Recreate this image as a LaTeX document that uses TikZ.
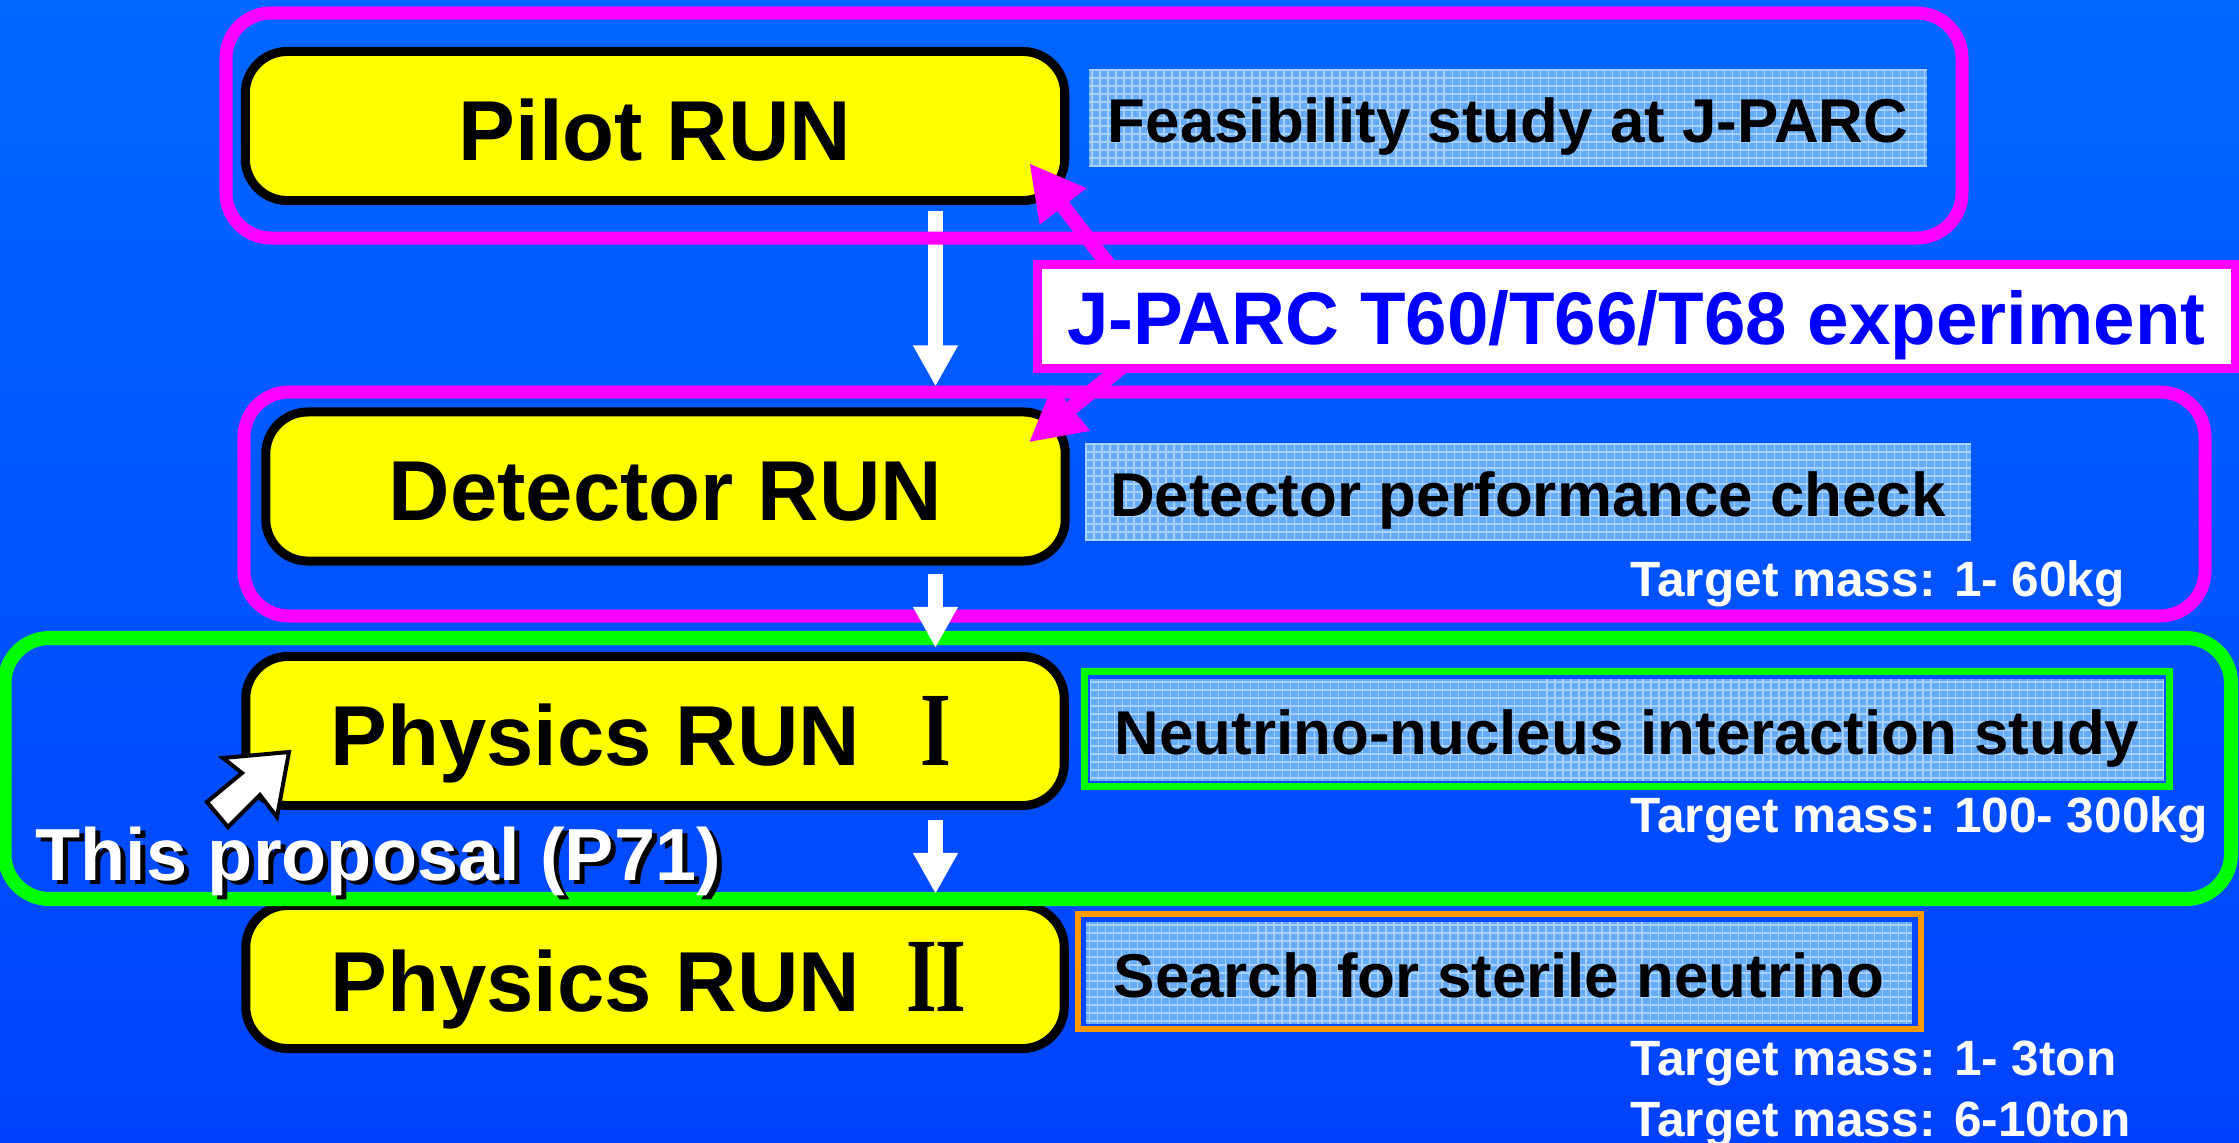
\documentclass[tikz,border=0pt]{standalone}
\usepackage{fontspec}
\setmainfont{Liberation Sans}
\newfontfamily\numfont{Liberation Serif}
\usetikzlibrary{arrows.meta,calc}
\pgfdeclarelayer{front}
\pgfsetlayers{main,front}
\definecolor{bgtop}{RGB}{0,102,255}
\definecolor{bgmid}{RGB}{0,153,255}
\definecolor{bgbot}{RGB}{0,66,255}
\definecolor{mag}{RGB}{255,0,255}
\definecolor{grn}{RGB}{0,255,0}
\definecolor{org}{RGB}{255,153,0}
\definecolor{yel}{RGB}{255,255,0}
\definecolor{patblue}{RGB}{100,172,250}
\definecolor{jblue}{RGB}{0,0,255}
\newcommand{\romnum}[1]{\makebox[0.86cm]{\scalebox{0.75}[1]{\numfont\bfseries\fontsize{30}{30}\selectfont #1}}}
\begin{document}
\begin{tikzpicture}[x=0.01cm,y=-0.01cm,
  runbox/.style={draw=black, line width=0.9mm, fill=yel, rounded corners=4.2mm, inner sep=0pt,
    text height=0.68cm, text depth=0pt, font=\bfseries\fontsize{24.2}{28}\selectfont},
  descbox/.style={fill=patblue, inner sep=0pt, text height=0.48cm, text depth=0pt,
    font=\bfseries\fontsize{17.6}{20}\selectfont,
    path picture={\draw[white, opacity=0.45, line width=0.35pt, step=0.8mm]
      (path picture bounding box.south west) grid (path picture bounding box.north east);}},
  mframe/.style={draw=mag, line width=1.3mm, rounded corners=4.5mm},
  gframe/.style={draw=grn, line width=1.4mm, rounded corners=4.5mm},
  warrow/.style={draw=white, line width=1.5mm, -{Triangle[length=4.1mm,width=4.2mm]}},
  marrow/.style={draw=mag, line width=1.5mm, -{Triangle[length=5.5mm,width=5.5mm]}},
  tmass/.style={text=white, font=\bfseries\fontsize{14.1}{16}\selectfont, anchor=base west, inner sep=0pt},
  pointer/.style={fill=white, draw=black, line width=0.4mm, line join=miter}
]
\useasboundingbox (0,0) rectangle (2239,1142);
\fill[top color=bgtop, middle color=bgmid, bottom color=bgbot] (0,0) rectangle (2239,1142);

% run boxes
\node[runbox, minimum width=8.19cm, minimum height=1.49cm] (pilot) at (655,126) {Pilot RUN};
\node[runbox, minimum width=7.99cm, minimum height=1.49cm] (detector) at (665.5,486.5) {Detector RUN};
\node[runbox, minimum width=8.18cm, minimum height=1.49cm] (phys1) at (655,731)
  {Physics RUN\hspace{0.33cm}\romnum{I}};
\node[runbox, minimum width=8.18cm, minimum height=1.43cm] (phys2) at (655,977)
  {Physics RUN\hspace{0.33cm}\romnum{I\kern-0.03em I}};

% frames
\draw[mframe] (244,392) rectangle (2205,616);
\draw[gframe] (4.5,638) rectangle (2231,899);

% white flow arrows
\coordinate (ax) at (935.5,0);
\draw[warrow, shorten <=0.06cm, shorten >=0.21cm] (pilot.south -| ax) -- (detector.north -| ax);
\draw[mframe] (226,13) rectangle (1962,238);
\draw[warrow, shorten <=0.08cm, shorten >=0.04cm] (detector.south -| ax) -- (phys1.north -| ax);
\draw[warrow, shorten <=0.10cm, shorten >=0.07cm] (phys1.south -| ax) -- (phys2.north -| ax);

% description boxes
\node[descbox, minimum width=8.38cm, minimum height=0.98cm] (feas) at (1508,118) {Feasibility study at J-PARC};
\node[descbox, minimum width=8.86cm, minimum height=0.98cm] (perf) at (1528,492) {Detector performance check};
\node[descbox, minimum width=10.74cm, minimum height=1.02cm] (nuc) at (1627,730) {Neutrino-nucleus interaction study};
\draw[draw=grn, line width=0.7mm] ($(nuc.north west)+(-4.5,-6.5)$) rectangle ($(nuc.south east)+(4.5,4.5)$);
\node[descbox, minimum width=8.26cm, minimum height=1.02cm] (search) at (1499,973) {Search for sterile neutrino};
\draw[draw=org, line width=0.6mm] ($(search.north west)+(-7,-7)$) rectangle ($(search.south east)+(8,4)$);

% J-PARC box (front layer) and its arrows
\begin{pgfonlayer}{front}
\node[draw=mag, line width=0.9mm, fill=white, text=jblue, inner sep=0pt,
  minimum width=11.98cm, minimum height=1.04cm, text height=0.55cm, text depth=0pt,
  font=\bfseries\fontsize{21.2}{24}\selectfont] (jparc) at (1636.5,316.5) {J-PARC T60/T66/T68 experiment};
\end{pgfonlayer}
\draw[marrow] ($(jparc.north west)+(80,10)$) -- ($(pilot.south east)+(-40,-42)$);
\draw[marrow] ($(jparc.south west)+(94,-10)$) -- ($(detector.north east)+(-41,35)$);

% target masses
\node[tmass] (m1) at (1630,596) {Target mass: 1- 60kg};
\node[tmass] (m2) at (1630,832) {Target mass: 100- 300kg};
\node[tmass] (m3) at (1630,1075) {Target mass: 1- 3ton};
\node[tmass] (m4) at (1630,1136) {Target mass: 6-10ton};

% this proposal
\node[anchor=base west, inner sep=0pt, text=white, font=\bfseries\fontsize{21}{24}\selectfont] (proposal) at (35,880)
  {\makebox[0pt][l]{\hspace{0.05cm}\raisebox{-0.04cm}{\color{black}This proposal (P71)}}This proposal (P71)};
\draw[pointer] (289,752) -- (223,758) -- (242,773) -- (207,802) -- (228,827) -- (260,795) -- (277,817) -- cycle;
\end{tikzpicture}
\end{document}
